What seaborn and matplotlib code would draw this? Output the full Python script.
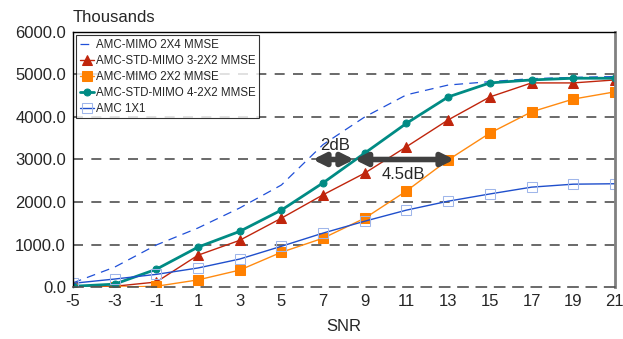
import numpy as np
import pandas as pd
import matplotlib
matplotlib.use("Agg")
import matplotlib.pyplot as plt
import seaborn as sns

# ==================== DATA ====================
snr = [-5, -3, -1, 1, 3, 5, 7, 9, 11, 13, 15, 17, 19, 21]

mimo_2x4 = [100, 470, 990, 1390, 1860, 2400, 3350, 4000, 4520, 4750, 4830, 4900, 4930, 4950]
std_3_2x2 = [0, 20, 120, 750, 1100, 1620, 2170, 2680, 3300, 3930, 4470, 4800, 4800, 4870]
mimo_2x2 = [0, 0, 20, 170, 400, 820, 1150, 1620, 2260, 2990, 3620, 4120, 4420, 4590]
std_4_2x2 = [20, 70, 420, 940, 1310, 1810, 2450, 3150, 3850, 4470, 4800, 4870, 4910, 4910]
amc_1x1 = [90, 190, 300, 450, 660, 960, 1270, 1550, 1810, 2020, 2190, 2350, 2420, 2430]

labels = ["AMC-MIMO 2X4 MMSE", "AMC-STD-MIMO 3-2X2 MMSE", "AMC-MIMO 2X2 MMSE",
          "AMC-STD-MIMO 4-2X2 MMSE", "AMC 1X1"]

# ==================== STYLE ====================
sns.set_theme(style="white")
plt.rcParams["font.family"] = ["Liberation Sans", "DejaVu Sans"]

fig = plt.figure(figsize=(6.23, 3.39), dpi=100)
ax = fig.add_axes([0.117, 0.153, 0.870, 0.753])

x = np.array(snr)

sns.lineplot(x=x, y=mimo_2x4, ax=ax, color="#2050d8", lw=0.9,
             linestyle=(0, (7, 5)), label=labels[0])
sns.lineplot(x=x, y=std_3_2x2, ax=ax, color="#c0250c", lw=1.0, marker="^",
             markersize=7, markeredgecolor="#c0250c", label=labels[1])
sns.lineplot(x=x, y=mimo_2x2, ax=ax, color="#ff8a10", lw=1.0, marker="s",
             markersize=7, markeredgecolor="#ff8000", markerfacecolor="#ff8000",
             label=labels[2])
sns.lineplot(x=x, y=std_4_2x2, ax=ax, color="#008b84", lw=2.0, marker="o",
             markersize=5, markeredgecolor="#008b84", label=labels[3])
sns.lineplot(x=x, y=amc_1x1, ax=ax, color="#1f4fcc", lw=1.0, marker="s",
             markersize=7, markerfacecolor="none", markeredgecolor="#9fb6ea",
             label=labels[4])

# grid lines
for yv in [1000, 2000, 3000, 4000, 5000]:
    ax.axhline(yv, color="#505050", lw=1.2, linestyle=(0, (6, 5)), zorder=0)

ax.set_xlim(-5, 21)
ax.set_ylim(0, 6000)
ax.set_xticks(snr)
ax.set_xticklabels([str(v) for v in snr])
ax.set_yticks(np.arange(0, 6001, 1000))
ax.set_yticklabels([f"{v:.1f}" for v in np.arange(0, 6001, 1000)])
ax.tick_params(axis="both", labelsize=12, length=0, pad=5)
ax.set_xlabel("SNR", fontsize=12, labelpad=7)
ax.set_ylabel("")

for side in ["top", "left"]:
    ax.spines[side].set_color("black")
    ax.spines[side].set_linewidth(1.0)
ax.spines["right"].set_color("#808080")
ax.spines["right"].set_linewidth(2.0)
ax.spines["bottom"].set_color("#505050")
ax.spines["bottom"].set_linewidth(1.2)
ax.spines["bottom"].set_linestyle((0, (6, 5)))

fig.text(0.117, 0.925, "Thousands", fontsize=12, ha="left", va="bottom")

# dB arrows
arrow_kw = dict(arrowstyle="<|-|>", color="#404040", lw=4, mutation_scale=18,
                shrinkA=0, shrinkB=0)
ax.annotate("", xy=(6.5, 3000), xytext=(8.5, 3000), arrowprops=arrow_kw)
ax.annotate("", xy=(8.5, 3000), xytext=(13.3, 3000), arrowprops=arrow_kw)
ax.text(7.6, 3150, "2dB", fontsize=12, ha="center", va="bottom")
ax.text(10.85, 2650, "4.5dB", fontsize=12, ha="center", va="center")

leg = ax.legend(loc="upper left", fontsize=8.3, frameon=True, fancybox=False,
                edgecolor="black", borderpad=0.3, labelspacing=0.35,
                handlelength=1.2, handletextpad=0.2, borderaxespad=0.3)
leg.get_frame().set_linewidth(0.8)

fig.savefig("out.png", dpi=100)
